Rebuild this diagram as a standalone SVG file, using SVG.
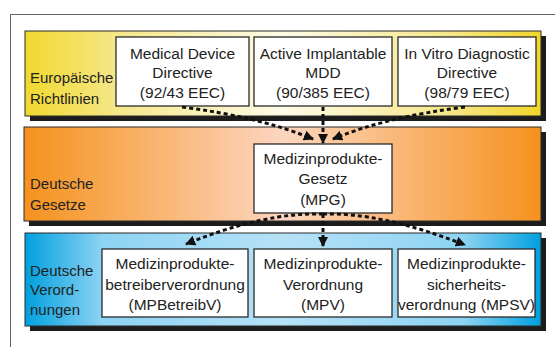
<svg xmlns="http://www.w3.org/2000/svg" width="555" height="347" viewBox="0 0 555 347">
<defs>
<linearGradient id="gy" x1="0" x2="1" y1="0" y2="0">
<stop offset="0" stop-color="#f0d92e"/><stop offset="0.18" stop-color="#f6e78a"/><stop offset="0.5" stop-color="#fefbe8"/><stop offset="0.82" stop-color="#f6e78a"/><stop offset="1" stop-color="#f0d62a"/>
</linearGradient>
<linearGradient id="go" x1="0" x2="1" y1="0" y2="0">
<stop offset="0" stop-color="#f5921e"/><stop offset="0.5" stop-color="#fdd6c0"/><stop offset="1" stop-color="#f5921e"/>
</linearGradient>
<linearGradient id="gb" x1="0" x2="1" y1="0" y2="0">
<stop offset="0" stop-color="#00a0df"/><stop offset="0.15" stop-color="#8dd3f3"/><stop offset="0.5" stop-color="#b6e2f7"/><stop offset="0.85" stop-color="#8dd3f3"/><stop offset="1" stop-color="#00a0df"/>
</linearGradient>
<marker id="ah" viewBox="0 0 10 10" refX="9" refY="5" markerWidth="3.4" markerHeight="3.4" orient="auto" markerUnits="strokeWidth">
<path d="M0,0 L10,5 L0,10 z" fill="#111"/>
</marker>
<style>
.frame{fill:none;stroke:#666;stroke-width:1}
.shadow{fill:#1c1c1c}
.band{stroke:#2a2a2a;stroke-width:1}
.box{fill:#fff;stroke:#2a2a2a;stroke-width:1.3}
text{font-family:"Liberation Sans",Arial,sans-serif;fill:#222}
.t{font-size:15.5px;text-anchor:middle}
.l{font-size:15px}
.c{fill:none;stroke:#111;stroke-width:3;stroke-dasharray:4 3;marker-end:url(#ah)}
</style>
</defs>
<rect class="frame" x="10.5" y="14.5" width="600" height="400"/>

<g id="band-eu">
<rect class="shadow" x="30" y="36" width="516" height="85"/>
<rect class="band" x="25" y="31" width="516" height="85" fill="url(#gy)"/>
<text class="l" x="30" y="83">Europäische</text>
<text class="l" x="30" y="104">Richtlinien</text>
</g>
<g id="band-de">
<rect class="shadow" x="29" y="132" width="517" height="94"/>
<rect class="band" x="24" y="127" width="517" height="94" fill="url(#go)"/>
<text class="l" x="30" y="189">Deutsche</text>
<text class="l" x="30" y="210">Gesetze</text>
</g>
<g id="band-vo">
<rect class="shadow" x="30" y="238" width="516" height="93"/>
<rect class="band" x="25" y="233" width="516" height="93" fill="url(#gb)"/>
<text class="l" x="30" y="275.5">Deutsche</text>
<text class="l" x="30" y="295">Verord-</text>
<text class="l" x="30" y="314.5">nungen</text>
</g>

<g id="mdd">
<rect class="box" x="116" y="37" width="133" height="69"/>
<text class="t" x="182.5" y="58.5">Medical Device</text>
<text class="t" x="182.5" y="78">Directive</text>
<text class="t" x="182.5" y="98">(92/43 EEC)</text>
</g>
<g id="aimdd">
<rect class="box" x="254" y="37" width="138" height="69"/>
<text class="t" x="323" y="58.5">Active Implantable</text>
<text class="t" x="323" y="78">MDD</text>
<text class="t" x="323" y="98">(90/385 EEC)</text>
</g>
<g id="ivd">
<rect class="box" x="398" y="37" width="138" height="69"/>
<text class="t" x="467" y="58.5">In Vitro Diagnostic</text>
<text class="t" x="467" y="78">Directive</text>
<text class="t" x="467" y="98">(98/79 EEC)</text>
</g>
<g id="mpg">
<rect class="box" x="254" y="144" width="138" height="69"/>
<text class="t" x="323" y="163.5">Medizinprodukte-</text>
<text class="t" x="323" y="184">Gesetz</text>
<text class="t" x="323" y="204.5">(MPG)</text>
</g>
<g id="mpbetreibv">
<rect class="box" x="102" y="249" width="146" height="68"/>
<text class="t" x="175" y="269">Medizinprodukte-</text>
<text class="t" x="175" y="289.5">betreiberverordnung</text>
<text class="t" x="175" y="310">(MPBetreibV)</text>
</g>
<g id="mpv">
<rect class="box" x="254" y="249" width="138" height="68"/>
<text class="t" x="323" y="269">Medizinprodukte-</text>
<text class="t" x="323" y="289.5">Verordnung</text>
<text class="t" x="323" y="310">(MPV)</text>
</g>
<g id="mpsv">
<rect class="box" x="398" y="249" width="137" height="68"/>
<text class="t" x="466.5" y="269">Medizinprodukte-</text>
<text class="t" x="466.5" y="289.5">sicherheits-</text>
<text class="t" x="466.5" y="310">verordnung (MPSV)</text>
</g>

<g id="connectors">
<path class="c" d="M182,107 Q260,117 313,139"/>
<path class="c" d="M323,107 L323,143"/>
<path class="c" d="M465,107 Q386,117 333,139"/>
<path class="c" d="M323,214 Q265,212 186,244"/>
<path class="c" d="M323,214 L323,246"/>
<path class="c" d="M323,214 Q381,212 465,245"/>
</g>
</svg>
